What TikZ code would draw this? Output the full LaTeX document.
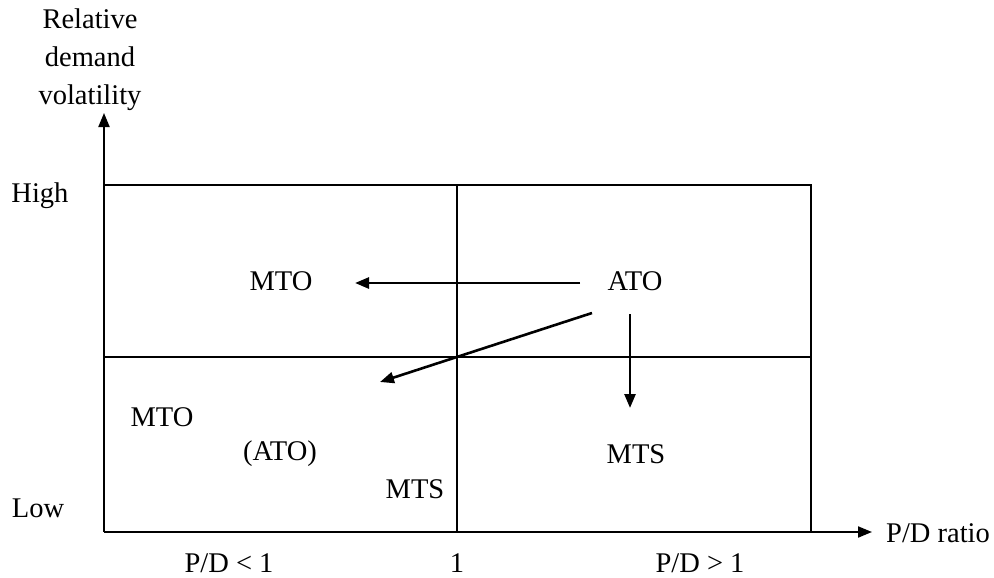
\documentclass[tikz,border=0pt]{standalone}
\usepackage{fontspec}
\setmainfont{Liberation Serif}
\usetikzlibrary{arrows.meta}
\begin{document}
\begin{tikzpicture}[x=1pt,y=-1pt,
  lbl/.style={font=\fontsize{28.5}{34}\selectfont, inner sep=0pt},
  grid/.style={line width=1.2pt},
  axis/.style={line width=2pt,-{Triangle[length=14pt,width=11pt]}},
  move/.style={line width=2.6pt,-{Triangle[length=14pt,width=11pt]}}]
\useasboundingbox (0,0) rectangle (994,578);
\coordinate (O) at (104,532);
\coordinate (Ytip) at (104,113);
\coordinate (Xtip) at (872,532);
\coordinate (TL) at (104,185);
\coordinate (TR) at (811,185);
\coordinate (BR) at (811,532);
\coordinate (ML) at (104,357);
\coordinate (MR) at (811,357);
\coordinate (MT) at (457,185);
\coordinate (MB) at (457,532);
\draw[grid] (TL) -- (TR) -- (BR);
\draw[grid] (ML) -- (MR);
\draw[grid] (MT) -- (MB);
\draw[axis] (O) -- (Ytip);
\draw[axis] (O) -- (Xtip);
\node[lbl, align=center] (ylab) at (90,60) {Relative\\[4pt]demand\\[4pt]volatility};
\node[lbl] (high) at (40,196) {High};
\node[lbl] (low) at (38,508) {Low};
\node[lbl, anchor=west] (xlab) at (886,533) {P/D ratio};
\node[lbl] (lt) at (229,563) {P/D < 1};
\node[lbl] (one) at (457,563) {1};
\node[lbl] (gt) at (700,563) {P/D > 1};
\node[lbl] (mto1) at (281,281) {MTO};
\node[lbl] (ato1) at (635,281) {ATO};
\node[lbl] (mto2) at (162,417) {MTO};
\node[lbl] (ato2) at (280,454) {(ATO)};
\node[lbl] (mts1) at (415,489) {MTS};
\node[lbl] (mts2) at (636,454) {MTS};
\coordinate (a1s) at (580,283);
\coordinate (a1e) at (355,283);
\coordinate (a2s) at (592,313);
\coordinate (a2e) at (380,382);
\coordinate (a3s) at (630,314);
\coordinate (a3e) at (630,408);
\draw[move] (a1s) -- (a1e);
\draw[move] (a2s) -- (a2e);
\draw[move] (a3s) -- (a3e);
\end{tikzpicture}
\end{document}
